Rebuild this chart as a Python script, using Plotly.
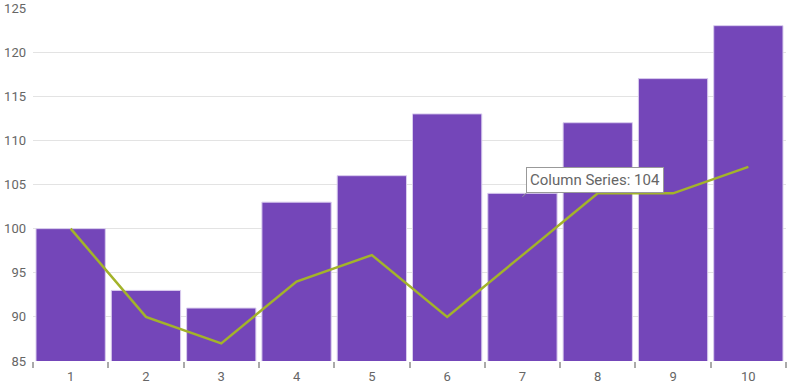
import plotly.graph_objects as go

categories = ["1", "2", "3", "4", "5", "6", "7", "8", "9", "10"]
column_values = [100, 93, 91, 103, 106, 113, 104, 112, 117, 123]
line_values = [100, 90, 87, 94, 97, 90, 97, 104, 104, 107]
tooltip_index = 6

fig = go.Figure()
fig.add_trace(go.Bar(
    x=categories, y=column_values, name="Column Series",
    marker=dict(color="#7446B9", line=dict(color="#D9CCEE", width=1)),
))
fig.add_trace(go.Scatter(
    x=categories, y=line_values, name="Line Series", mode="lines",
    line=dict(color="#A3B32A", width=2.5),
))

fig.add_annotation(
    x=tooltip_index, y=column_values[tooltip_index] - 0.4,
    text=f"Column Series: {column_values[tooltip_index]}",
    showarrow=True, arrowhead=0, arrowwidth=1, arrowcolor="#999999",
    ax=4, ay=-4, xanchor="left", yanchor="bottom",
    bgcolor="white", bordercolor="#999999", borderwidth=1, borderpad=3,
    font=dict(family="Roboto", size=15, color="#666666"),
)

fig.update_layout(
    width=800, height=388,
    margin=dict(l=33, r=14, t=8, b=27, autoexpand=False),
    paper_bgcolor="white", plot_bgcolor="white",
    showlegend=False, bargap=0.08,
    font=dict(family="Roboto", size=13, color="#666666"),
    xaxis=dict(
        type="category", tickson="boundaries", ticks="outside",
        ticklen=6, tickwidth=2, tickcolor="#aaaaaa", automargin=False,
        showgrid=False, showline=False, zeroline=False,
        ticklabelstandoff=6,
        tickfont=dict(family="Roboto", size=13, color="#666666"),
    ),
    yaxis=dict(
        range=[85, 125], dtick=5, showgrid=True, gridcolor="#e3e3e3",
        gridwidth=1, zeroline=False, showline=False, ticks="",
        automargin=False,
        tickfont=dict(family="Roboto", size=13, color="#666666"),
        ticklabelstandoff=6,
    ),
)

fig.write_html(
    "out.html",
    config={"displayModeBar": False},
    post_script="document.body.style.margin='0';document.body.style.overflow='hidden';",
)
